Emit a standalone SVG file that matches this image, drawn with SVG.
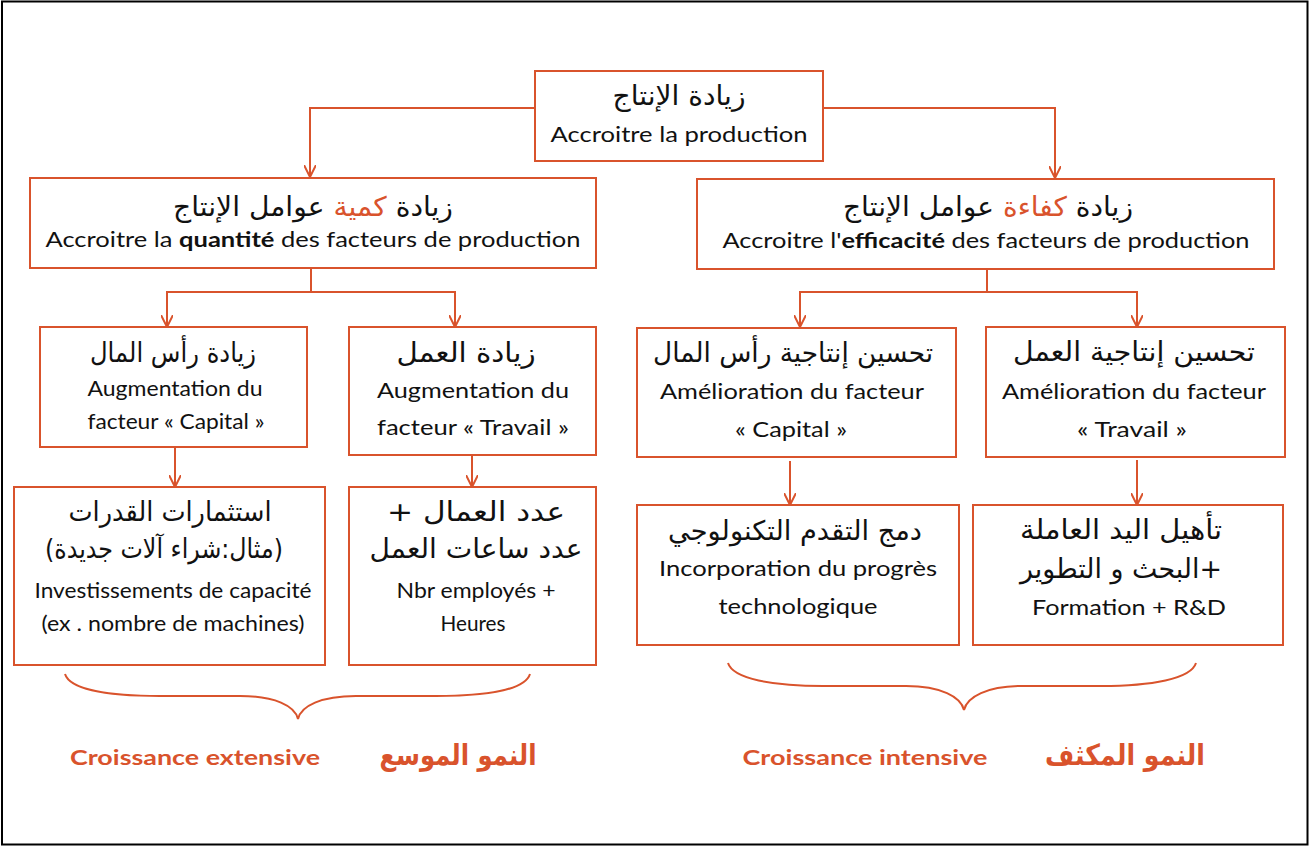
<svg xmlns="http://www.w3.org/2000/svg" width="1311" height="847" viewBox="0 0 1311 847">
<style>
.box{fill:#fff;stroke:#D9532C;stroke-width:2}
.ln{fill:none;stroke:#D9532C;stroke-width:2}
.ar{font-family:"DejaVu Sans","Noto Sans",sans-serif;font-size:27px;fill:#111;text-anchor:middle;direction:rtl;unicode-bidi:embed}
.la{font-family:Lato,"Noto Sans",sans-serif;font-size:21px;fill:#111;text-anchor:middle}
.or{fill:#D9532C}
.lbl{font-family:Lato,"Noto Sans",sans-serif;font-size:20px;font-weight:bold;fill:#D9532C;text-anchor:middle}
.arl{font-family:"DejaVu Sans","Noto Sans",sans-serif;font-size:29px;font-weight:bold;fill:#D9532C;text-anchor:middle;direction:rtl;unicode-bidi:embed}
</style>
<defs>
<marker id="arr" viewBox="0 0 12 12" refX="12" refY="6" markerWidth="12" markerHeight="12" markerUnits="userSpaceOnUse" orient="auto">
<path d="M0,0 L12,6 L0,12" fill="none" stroke="#D9532C" stroke-width="2"/>
</marker>
</defs>
<rect x="2" y="1.5" width="1305.5" height="843" fill="#fff" stroke="#000" stroke-width="2"/>
<g id="connectors">
<polyline class="ln" points="535,108 310,108 310,177" marker-end="url(#arr)"/>
<polyline class="ln" points="822,108 1055,108 1055,178" marker-end="url(#arr)"/>
<line class="ln" x1="311" y1="268" x2="311" y2="292"/>
<polyline class="ln" points="455,327 455,292 167,292 167,327" marker-end="url(#arr)"/>
<line class="ln" x1="455" y1="292" x2="455" y2="327" marker-end="url(#arr)"/>
<line class="ln" x1="987" y1="269" x2="987" y2="292"/>
<polyline class="ln" points="1137,327 1137,292 800,292 800,327" marker-end="url(#arr)"/>
<line class="ln" x1="1137" y1="292" x2="1137" y2="327" marker-end="url(#arr)"/>
<line class="ln" x1="175" y1="447" x2="175" y2="487" marker-end="url(#arr)"/>
<line class="ln" x1="472" y1="456" x2="472" y2="487" marker-end="url(#arr)"/>
<line class="ln" x1="790" y1="461" x2="790" y2="505" marker-end="url(#arr)"/>
<line class="ln" x1="1137" y1="460" x2="1137" y2="505" marker-end="url(#arr)"/>
<path class="ln" d="M65,674 C70,690 110,696 160,696 L240,696 C275,696 295,706 298,719 C301,706 321,696 356,696 L436,696 C486,696 525,690 530,674"/>
<path class="ln" d="M728,663 C733,679 773,686 823,686 L906,686 C941,686 961,697 964,710 C967,697 987,686 1022,686 L1101,686 C1151,686 1191,679 1196,663"/>
</g>
<g id="n-top">
<rect class="box" x="535" y="71" width="288" height="90"/>
<text class="ar" x="679" y="105" textLength="133" lengthAdjust="spacingAndGlyphs">زيادة الإنتاج</text>
<text class="la" x="679" y="142" textLength="257" lengthAdjust="spacingAndGlyphs">Accroitre  la production</text>
</g>
<g id="n-quant">
<rect class="box" x="30" y="178" width="566" height="90"/>
<text class="ar" x="313" y="216" textLength="280" lengthAdjust="spacingAndGlyphs">زيادة <tspan class="or">كمية</tspan> عوامل الإنتاج</text>
<text class="la" x="313" y="247" textLength="535" lengthAdjust="spacingAndGlyphs">Accroitre  la <tspan font-weight="bold">quantité</tspan> des facteurs de production</text>
</g>
<g id="n-eff">
<rect class="box" x="697" y="179" width="577" height="90"/>
<text class="ar" x="988" y="216" textLength="290" lengthAdjust="spacingAndGlyphs">زيادة <tspan class="or">كفاءة</tspan> عوامل الإنتاج</text>
<text class="la" x="986" y="248" textLength="527" lengthAdjust="spacingAndGlyphs">Accroitre l'<tspan font-weight="bold">efficacité</tspan> des facteurs de production</text>
</g>
<g id="n-capital">
<rect class="box" x="40" y="327" width="267" height="120"/>
<text class="ar" x="173" y="362" textLength="166" lengthAdjust="spacingAndGlyphs">زيادة رأس المال</text>
<text class="la" x="175" y="396" textLength="175" lengthAdjust="spacingAndGlyphs">Augmentation du</text>
<text class="la" x="176" y="429" textLength="177" lengthAdjust="spacingAndGlyphs">facteur « Capital »</text>
</g>
<g id="n-travail">
<rect class="box" x="349" y="327" width="247" height="128"/>
<text class="ar" x="466" y="362" textLength="139" lengthAdjust="spacingAndGlyphs">زيادة العمل</text>
<text class="la" x="473" y="398" textLength="192" lengthAdjust="spacingAndGlyphs">Augmentation du</text>
<text class="la" x="473" y="435" textLength="192" lengthAdjust="spacingAndGlyphs">facteur « Travail »</text>
</g>
<g id="n-prodcap">
<rect class="box" x="637" y="328" width="319" height="129"/>
<text class="ar" x="793" y="362" textLength="280" lengthAdjust="spacingAndGlyphs">تحسين إنتاجية رأس المال</text>
<text class="la" x="792" y="399" textLength="264" lengthAdjust="spacingAndGlyphs">Amélioration du facteur</text>
<text class="la" x="791" y="437" textLength="112" lengthAdjust="spacingAndGlyphs">« Capital »</text>
</g>
<g id="n-prodtrav">
<rect class="box" x="986" y="327" width="299" height="130"/>
<text class="ar" x="1134" y="361" textLength="242" lengthAdjust="spacingAndGlyphs">تحسين إنتاجية العمل</text>
<text class="la" x="1134" y="399" textLength="264" lengthAdjust="spacingAndGlyphs">Amélioration du facteur</text>
<text class="la" x="1132" y="437" textLength="110" lengthAdjust="spacingAndGlyphs">« Travail »</text>
</g>
<g id="n-invest">
<rect class="box" x="14" y="487" width="311" height="178"/>
<text class="ar" x="170" y="521" textLength="203" lengthAdjust="spacingAndGlyphs">استثمارات القدرات</text>
<text class="ar" x="164" y="558" textLength="238" lengthAdjust="spacingAndGlyphs">(مثال:شراء آلات جديدة)</text>
<text class="la" x="173" y="598" textLength="277" lengthAdjust="spacingAndGlyphs">Investissements de capacité</text>
<text class="la" x="173" y="631" textLength="263" lengthAdjust="spacingAndGlyphs">(ex . nombre de machines)</text>
</g>
<g id="n-nbr">
<rect class="box" x="349" y="487" width="247" height="178"/>
<text class="ar" x="476" y="521" textLength="178" lengthAdjust="spacingAndGlyphs">عدد العمال  +</text>
<text class="ar" x="476" y="558" textLength="213" lengthAdjust="spacingAndGlyphs">عدد ساعات العمل</text>
<text class="la" x="476" y="598" textLength="159" lengthAdjust="spacingAndGlyphs">Nbr employés +</text>
<text class="la" x="473" y="631" textLength="65" lengthAdjust="spacingAndGlyphs">Heures</text>
</g>
<g id="n-techno">
<rect class="box" x="637" y="505" width="322" height="140"/>
<text class="ar" x="795" y="540" textLength="254" lengthAdjust="spacingAndGlyphs">دمج التقدم التكنولوجي</text>
<text class="la" x="798" y="576" textLength="278" lengthAdjust="spacingAndGlyphs">Incorporation du progrès</text>
<text class="la" x="798" y="614" textLength="159" lengthAdjust="spacingAndGlyphs">technologique</text>
</g>
<g id="n-formation">
<rect class="box" x="973" y="505" width="310" height="140"/>
<text class="ar" x="1121" y="539" textLength="202" lengthAdjust="spacingAndGlyphs">تأهيل اليد العاملة</text>
<text class="ar" x="1121" y="578" textLength="202" lengthAdjust="spacingAndGlyphs">+البحث و التطوير</text>
<text class="la" x="1129" y="615" textLength="194" lengthAdjust="spacingAndGlyphs">Formation + R&amp;D</text>
</g>
<g id="labels">
<text class="lbl" x="195" y="765" textLength="250" lengthAdjust="spacingAndGlyphs">Croissance extensive</text>
<text class="arl" x="458" y="765" textLength="157" lengthAdjust="spacingAndGlyphs">النمو الموسع</text>
<text class="lbl" x="865" y="765" textLength="245" lengthAdjust="spacingAndGlyphs">Croissance intensive</text>
<text class="arl" x="1125" y="765" textLength="160" lengthAdjust="spacingAndGlyphs">النمو المكثف</text>
</g>
</svg>
